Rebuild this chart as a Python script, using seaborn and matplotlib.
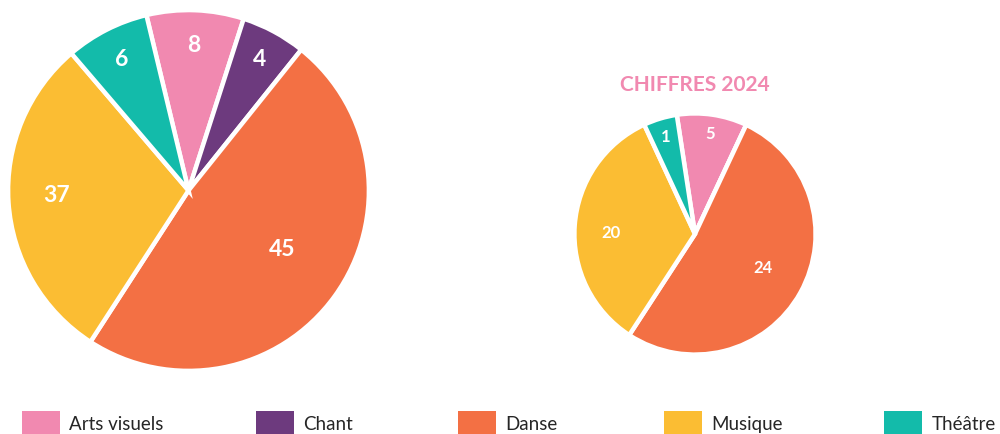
import numpy as np
import matplotlib.pyplot as plt
from matplotlib.patches import Patch
import seaborn as sns

categories = ["Arts visuels", "Chant", "Danse", "Musique", "Théâtre"]
colors = ["#F189B0", "#6D3A7E", "#F37044", "#FBBD33", "#13BBAA"]

# numbers printed on the slices
counts_all = [8, 4, 45, 37, 6]
counts_2024 = [5, 0, 24, 20, 1]

# slice sizes as drawn in the source (%), they do not follow the printed numbers
shares_all = [8.7, 5.8, 48.4, 29.6, 7.5]
shares_2024 = [9.4, 0.0, 52.2, 33.9, 4.5]

title_2024 = "CHIFFRES 2024"

sns.set_theme(style="white")
plt.rcParams['font.family'] = ['Lato', 'DejaVu Sans']

fig = plt.figure(figsize=(10, 4.35), dpi=100)


def draw_pie(ax, shares, counts, start, label_r, label_shift, fsize):
    wedges, _ = ax.pie(shares, colors=colors, startangle=start, counterclock=False,
                       wedgeprops=dict(edgecolor="white", linewidth=3.2))
    for w, n, r, d in zip(wedges, counts, label_r, label_shift):
        if n == 0:
            continue
        mid = np.deg2rad((w.theta1 + w.theta2) / 2 + d)
        ax.text(r * np.cos(mid), r * np.sin(mid), str(n), ha="center", va="center",
                color="white", fontsize=fsize, fontweight="bold")
    ax.set_xlim(-1.02, 1.02)
    ax.set_ylim(-1.02, 1.02)
    ax.set_aspect("equal")


ax1 = fig.add_axes([0.0045, 0.1368, 0.368, 0.846])
draw_pie(ax1, shares_all, counts_all, 103.5, [0.81, 0.83, 0.61, 0.73, 0.82],
         [0, 0, 4, -2, 0], 16.5)

ax2 = fig.add_axes([0.572, 0.177, 0.246, 0.5655])
draw_pie(ax2, shares_2024, counts_2024, 98.7, [0.85, 0.85, 0.63, 0.7, 0.85],
         [0, 0, 3, 3, 0], 12)

fig.text(0.695, 0.805, title_2024, ha="center", va="center", color="#F189B0",
         fontsize=15, fontweight="bold")

# legend: one entry per slot along the bottom edge
legend_x = [0.022, 0.256, 0.458, 0.664, 0.884]
for cat, col, x in zip(categories, colors, legend_x):
    fig.legend([Patch(facecolor=col, edgecolor="none")], [cat], loc="center left",
               bbox_to_anchor=(x, 1 - 424 / 435), frameon=False, fontsize=13.5,
               handlelength=2.03, handleheight=1.65, handletextpad=0.5,
               borderpad=0, borderaxespad=0)

fig.savefig("out.png", dpi=100)
